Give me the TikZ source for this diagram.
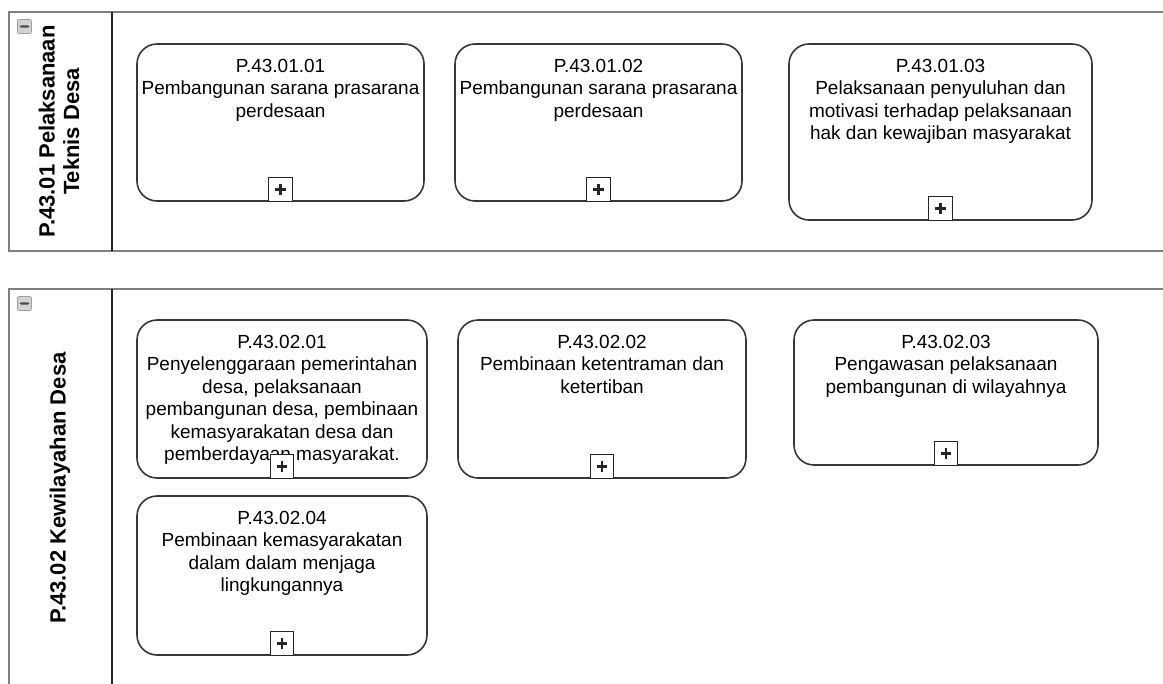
\documentclass[tikz,border=0pt]{standalone}
\usepackage{fontspec}
\setmainfont{Liberation Sans}
\usetikzlibrary{positioning}
\definecolor{poolgray}{RGB}{128,128,128}
\definecolor{taskline}{RGB}{55,55,55}

\begin{document}
\begin{tikzpicture}[x=0.75pt,y=-0.75pt]
  \tikzstyle{pool}=[draw=poolgray,line width=1.9pt]
  \tikzstyle{lanesep}=[draw=black!85,line width=1.1pt]
  \tikzstyle{task}=[draw=taskline,line width=1.2pt,rounded corners=15pt,fill=white,inner sep=0pt]
  \tikzstyle{txt}=[align=center,inner sep=0pt,font=\fontsize{14.25}{16.9}\selectfont]
  \tikzstyle{lanelbl}=[rotate=90,align=center,inner sep=0pt,font=\fontsize{16.5}{18.5}\selectfont\bfseries]
  \tikzstyle{plusbox}=[draw=black!85,line width=0.9pt,fill=white,minimum size=17.5pt,inner sep=0pt,
    path picture={\draw[line width=1.7pt] ([xshift=-4pt]path picture bounding box.center) -- ([xshift=4pt]path picture bounding box.center);
      \draw[line width=1.7pt] ([yshift=-4pt]path picture bounding box.center) -- ([yshift=4pt]path picture bounding box.center);}]
  \tikzstyle{minusbox}=[draw=gray!75,fill=gray!35,rounded corners=1pt,minimum size=10.5pt,inner sep=0pt,
    path picture={\fill[gray!60!black] ([xshift=-3.6pt,yshift=-0.8pt]path picture bounding box.center) rectangle ([xshift=3.6pt,yshift=0.8pt]path picture bounding box.center);}]

  \useasboundingbox (0,0) rectangle (1163,683);

  % pools and lanes
  \draw[pool] (1175,12) -- (9,12) -- (9,251) -- (1175,251);
  \draw[pool] (1175,289) -- (9,289) -- (9,695);
  \draw[lanesep] (112,12) -- (112,251);
  \draw[lanesep] (112,289) -- (112,695);

  \node[minusbox] (min1) at (24.5,26.5) {};
  \node[minusbox] (min2) at (24.5,303.5) {};

  \node[lanelbl] (lane1) at (59,131.5) {P.43.01 Pelaksanaan\\Teknis Desa};
  \node[lanelbl] (lane2) at (60,488) {P.43.02 Kewilayahan Desa};

  % tasks of lane 1
  \node[task,minimum width=215.25pt,minimum height=117.75pt] (t11) at (280.5,122.5) {};
  \node[task,minimum width=215.25pt,minimum height=117.75pt] (t12) at (598.5,122.5) {};
  \node[task,minimum width=227.25pt,minimum height=132pt] (t13) at (940.5,132) {};

  % tasks of lane 2
  \node[task,minimum width=217.5pt,minimum height=118.5pt] (t21) at (282,399) {};
  \node[task,minimum width=216pt,minimum height=118.5pt] (t22) at (602,399) {};
  \node[task,minimum width=228pt,minimum height=108.75pt] (t23) at (946,392.5) {};
  \node[task,minimum width=217.5pt,minimum height=119.25pt] (t24) at (282,575.5) {};

  \node[txt,below=11.6pt of t11.north] (l11) {P.43.01.01\\Pembangunan sarana prasarana\\perdesaan};
  \node[txt,below=11.6pt of t12.north] (l12) {P.43.01.02\\Pembangunan sarana prasarana\\perdesaan};
  \node[txt,below=11.6pt of t13.north] (l13) {P.43.01.03\\Pelaksanaan penyuluhan dan\\motivasi terhadap pelaksanaan\\hak dan kewajiban masyarakat};
  \node[txt,below=11.6pt of t21.north] (l21) {P.43.02.01\\Penyelenggaraan pemerintahan\\desa, pelaksanaan\\pembangunan desa, pembinaan\\kemasyarakatan desa dan\\pemberdayaan masyarakat.};
  \node[txt,below=11.6pt of t22.north] (l22) {P.43.02.02\\Pembinaan ketentraman dan\\ketertiban};
  \node[txt,below=11.6pt of t23.north] (l23) {P.43.02.03\\Pengawasan pelaksanaan\\pembangunan di wilayahnya};
  \node[txt,below=11.6pt of t24.north] (l24) {P.43.02.04\\Pembinaan kemasyarakatan\\dalam dalam menjaga\\lingkungannya};

  % collapsed sub-process markers
  \foreach \t in {t11,t12,t13,t21,t22,t23,t24}
    \node[plusbox,anchor=south] (p-\t) at (\t.south) {};
\end{tikzpicture}
\end{document}
